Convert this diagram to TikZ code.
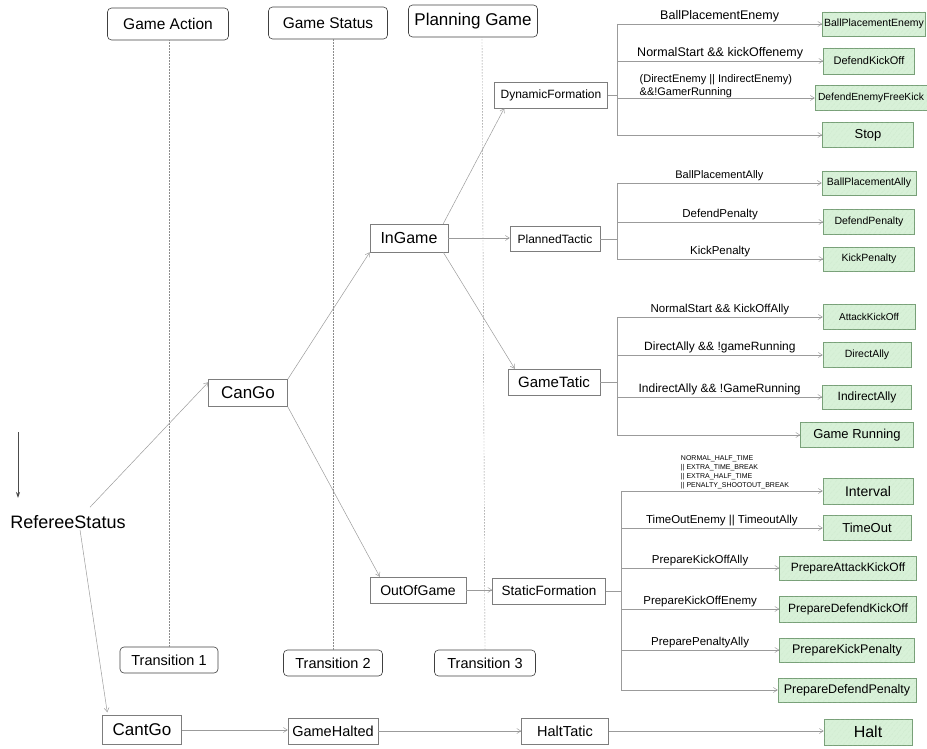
\documentclass[tikz,border=0pt]{standalone}
\usepackage{fontspec}
\setmainfont{Liberation Sans}
\usetikzlibrary{arrows.meta,patterns.meta}
\definecolor{linegray}{RGB}{155,155,155}
\definecolor{boxedge}{RGB}{125,125,125}
\definecolor{greenfill}{RGB}{216,241,216}
\definecolor{greenedge}{RGB}{120,160,120}
\definecolor{greenhatch}{RGB}{178,214,178}
\newcommand{\fs}[1]{\fontsize{#1}{#1}\selectfont}

\begin{document}
\begin{tikzpicture}[x=1pt, y=-1pt,
  lane/.style={draw=black!75, rounded corners=4pt, line width=0.6pt, inner sep=0pt, font=\fs{15.5}},
  state/.style={draw=boxedge, line width=0.5pt, fill=white, inner sep=0pt},
  play/.style={draw=greenedge, line width=0.5pt, fill=greenfill, inner sep=0pt,
    postaction={pattern={Lines[angle=50,distance=4pt,line width=0.3pt]}, pattern color=greenhatch}},
  conn/.style={draw=linegray, line width=0.5pt, -{Straight Barb[length=4pt,width=5pt]}},
  link/.style={draw=linegray, line width=0.5pt},
  cond/.style={above=1pt, inner sep=1pt},
  lifeline/.style={draw=black!45, line width=0.4pt, dash pattern=on 1.5pt off 1.5pt},
]
\useasboundingbox (0,0) rectangle (927,749);

% lanes
\node[lane, minimum width=121pt, minimum height=32pt] (GameAction) at (168,24) {Game Action};
\node[lane, minimum width=119pt, minimum height=32pt] (GameStatus) at (328,23) {Game Status};
\node[lane, minimum width=129pt, minimum height=32pt, font=\fs{17}] (PlanningGame) at (473,21) {Planning Game};
\node[lane, minimum width=98pt, minimum height=26pt, font=\fs{14.5}] (Transition1) at (169,660) {Transition 1};
\node[lane, minimum width=99pt, minimum height=26pt, font=\fs{14.5}] (Transition2) at (333,663) {Transition 2};
\node[lane, minimum width=101pt, minimum height=26pt, font=\fs{14.5}] (Transition3) at (485,663) {Transition 3};
\draw[lifeline] (Transition1.north) -- (Transition1.north |- GameAction.south);
\draw[lifeline] (Transition2.north) -- (Transition2.north |- GameStatus.south);
\draw[lifeline] (Transition3.north) -- ([xshift=-3pt]Transition3.north |- PlanningGame.south);

% referee
\node[font=\fs{18}, inner sep=1pt] (RefereeStatus) at (68,522) {RefereeStatus};
\coordinate (entry) at (18,432);
\coordinate (entryEnd) at (18,498);
\draw[black!70, line width=0.8pt, -{Stealth[length=6pt,width=4pt]}] (entry) -- (entryEnd);

% states
\node[state, minimum width=79pt, minimum height=27pt, font=\fs{17}] (CanGo) at (248,393) {CanGo};
\node[state, minimum width=78pt, minimum height=28pt, font=\fs{16}] (InGame) at (409,238) {InGame};
\node[state, minimum width=96pt, minimum height=26pt, font=\fs{14}] (OutOfGame) at (418,590) {OutOfGame};
\node[state, minimum width=113pt, minimum height=26pt, font=\fs{12}] (DynamicFormation) at (551,95) {DynamicFormation};
\node[state, minimum width=90pt, minimum height=25pt, font=\fs{12}] (PlannedTactic) at (555,239) {PlannedTactic};
\node[state, minimum width=92pt, minimum height=26pt, font=\fs{15}] (GameTatic) at (554,382) {GameTatic};
\node[state, minimum width=113pt, minimum height=26pt, font=\fs{13.5}] (StaticFormation) at (549,591) {StaticFormation};
\node[state, minimum width=79pt, minimum height=29pt, font=\fs{17}] (CantGo) at (142,730) {CantGo};
\node[state, minimum width=90pt, minimum height=26pt, font=\fs{14.5}] (GameHalted) at (333,731) {GameHalted};
\node[state, minimum width=87pt, minimum height=26pt, font=\fs{14.5}] (HaltTatic) at (565,731) {HaltTatic};

% plays
\node[play, minimum width=103pt, minimum height=24pt, font=\fs{10.5}] (BallPlacementEnemy) at (874,24) {BallPlacementEnemy};
\node[play, minimum width=91pt, minimum height=26pt, font=\fs{11}] (DefendKickOff) at (869,61) {DefendKickOff};
\node[play, minimum width=112pt, minimum height=25pt, font=\fs{10.3}] (DefendEnemyFreeKick) at (871,98) {DefendEnemyFreeKick};
\node[play, minimum width=91pt, minimum height=25pt, font=\fs{13}] (Stop) at (868,135) {Stop};
\node[play, minimum width=94pt, minimum height=24pt, font=\fs{10.5}] (BallPlacementAlly) at (869,183) {BallPlacementAlly};
\node[play, minimum width=91pt, minimum height=25pt, font=\fs{10.5}] (DefendPenalty) at (869,222) {DefendPenalty};
\node[play, minimum width=91pt, minimum height=24pt, font=\fs{10.5}] (KickPenalty) at (869,259) {KickPenalty};
\node[play, minimum width=92pt, minimum height=25pt, font=\fs{10}] (AttackKickOff) at (869,317) {AttackKickOff};
\node[play, minimum width=88pt, minimum height=25pt, font=\fs{10.5}] (DirectAlly) at (867,355) {DirectAlly};
\node[play, minimum width=89pt, minimum height=24pt, font=\fs{12}] (IndirectAlly) at (867,397) {IndirectAlly};
\node[play, minimum width=113pt, minimum height=25pt, font=\fs{13}] (GameRunning) at (857,435) {Game Running};
\node[play, minimum width=90pt, minimum height=26pt, font=\fs{14}] (Interval) at (868,491) {Interval};
\node[play, minimum width=88pt, minimum height=25pt, font=\fs{13}] (TimeOut) at (867,528) {TimeOut};
\node[play, minimum width=137pt, minimum height=24pt, font=\fs{12}] (PrepareAttackKickOff) at (848,568) {PrepareAttackKickOff};
\node[play, minimum width=137pt, minimum height=26pt, font=\fs{12}] (PrepareDefendKickOff) at (848,609) {PrepareDefendKickOff};
\node[play, minimum width=135pt, minimum height=24pt, font=\fs{12.5}] (PrepareKickPenalty) at (847,650) {PrepareKickPenalty};
\node[play, minimum width=138pt, minimum height=24pt, font=\fs{12.5}] (PrepareDefendPenalty) at (847,690) {PrepareDefendPenalty};
\node[play, minimum width=88pt, minimum height=26pt, font=\fs{16}] (Halt) at (868,732) {Halt};

% transitions
\draw[conn] ([xshift=22pt,yshift=7pt]RefereeStatus.north) -- ([yshift=-3pt]CanGo.north west);
\draw[conn] ([xshift=12pt]RefereeStatus.south) -- ([xshift=5pt,yshift=3pt]CantGo.north west);
\draw[conn] (CanGo.north east) -- (InGame.south west);
\draw[conn] (CanGo.south east) -- ([xshift=10pt]OutOfGame.north west);
\draw[conn] ([xshift=-5pt]InGame.north east) -- ([xshift=10pt]DynamicFormation.south west);
\draw[conn] (InGame.east) -- (InGame.east -| PlannedTactic.west);
\draw[conn] ([xshift=-5pt]InGame.south east) -- ([xshift=7pt]GameTatic.north west);
\draw[conn] (OutOfGame.east) -- (OutOfGame.east -| StaticFormation.west);
\draw[conn] (CantGo.east) -- (CantGo.east -| GameHalted.west);
\draw[conn] (GameHalted.east) -- (GameHalted.east -| HaltTatic.west);
\draw[conn] (HaltTatic.east) -- (HaltTatic.east -| Halt.west);

% dynamic formation
\coordinate (dfT) at (617,95);
\draw[link] (DynamicFormation.east) -- (dfT);
\draw[link] (dfT |- BallPlacementEnemy) -- (dfT |- Stop);
\draw[conn] (dfT |- BallPlacementEnemy) -- (BallPlacementEnemy.west)
  node[cond, midway, font=\fs{12.5}] (c1) {BallPlacementEnemy};
\draw[conn] (dfT |- DefendKickOff) -- (DefendKickOff.west)
  node[cond, midway, font=\fs{12.5}] (c2) {NormalStart \&\& kickOffenemy};
\draw[conn] (dfT |- DefendEnemyFreeKick) -- (DefendEnemyFreeKick.west)
  node[cond, midway, align=left, font=\fontsize{11}{13}\selectfont, yshift=-2pt] (c3) {(DirectEnemy || IndirectEnemy)\\\&\&!GamerRunning};
\draw[conn] (dfT |- Stop) -- (Stop.west);

% planned tactic
\coordinate (ptT) at (617,239);
\draw[link] (PlannedTactic.east) -- (ptT);
\draw[link] (ptT |- BallPlacementAlly) -- (ptT |- KickPenalty);
\draw[conn] (ptT |- BallPlacementAlly) -- (BallPlacementAlly.west)
  node[cond, midway, font=\fs{11}] (c4) {BallPlacementAlly};
\draw[conn] (ptT |- DefendPenalty) -- (DefendPenalty.west)
  node[cond, midway, font=\fs{11.5}] (c5) {DefendPenalty};
\draw[conn] (ptT |- KickPenalty) -- (KickPenalty.west)
  node[cond, midway, font=\fs{11.5}] (c6) {KickPenalty};

% game tatic
\coordinate (gtT) at (617,382);
\draw[link] (GameTatic.east) -- (gtT);
\draw[link] (gtT |- AttackKickOff) -- (gtT |- GameRunning);
\draw[conn] (gtT |- AttackKickOff) -- (AttackKickOff.west)
  node[cond, midway, font=\fs{11.5}] (c7) {NormalStart \&\& KickOffAlly};
\draw[conn] (gtT |- DirectAlly) -- (DirectAlly.west)
  node[cond, midway, font=\fs{12}] (c8) {DirectAlly \&\& !gameRunning};
\draw[conn] (gtT |- IndirectAlly) -- (IndirectAlly.west)
  node[cond, midway, font=\fs{12}] (c9) {IndirectAlly \&\& !GameRunning};
\draw[conn] (gtT |- GameRunning) -- (GameRunning.west);

% static formation
\coordinate (sfT) at (621,591);
\draw[link] (StaticFormation.east) -- (sfT);
\draw[link] (sfT |- Interval) -- (sfT |- PrepareDefendPenalty);
\draw[conn] (sfT |- Interval) -- (Interval.west)
  node[cond, pos=0.565, align=left, font=\fontsize{7}{9}\selectfont] (c10) {NORMAL\_HALF\_TIME\\|| EXTRA\_TIME\_BREAK\\|| EXTRA\_HALF\_TIME\\|| PENALTY\_SHOOTOUT\_BREAK};
\draw[conn] (sfT |- TimeOut) -- (TimeOut.west)
  node[cond, midway, font=\fs{11.5}] (c11) {TimeOutEnemy || TimeoutAlly};
\draw[conn] (sfT |- PrepareAttackKickOff) -- (PrepareAttackKickOff.west)
  node[cond, midway, font=\fs{11.5}] (c12) {PrepareKickOffAlly};
\draw[conn] (sfT |- PrepareDefendKickOff) -- (PrepareDefendKickOff.west)
  node[cond, midway, font=\fs{11.5}] (c13) {PrepareKickOffEnemy};
\draw[conn] (sfT |- PrepareKickPenalty) -- (PrepareKickPenalty.west)
  node[cond, midway, font=\fs{11.5}] (c14) {PreparePenaltyAlly};
\draw[conn] (sfT |- PrepareDefendPenalty) -- (PrepareDefendPenalty.west);

\end{tikzpicture}
\end{document}
